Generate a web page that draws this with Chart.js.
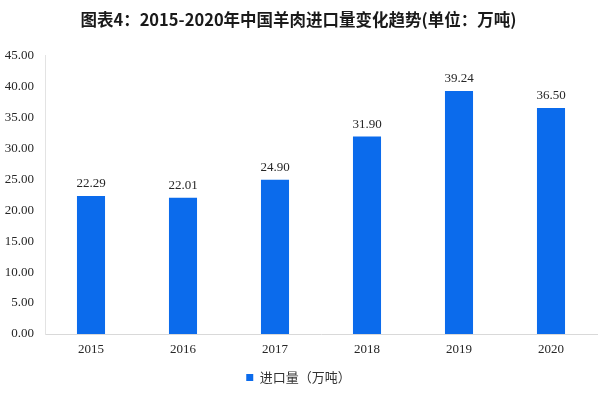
<!DOCTYPE html>
<html>
<head>
<meta charset="utf-8">
<script src="https://cdn.jsdelivr.net/npm/chart.js@4.4.0/dist/chart.umd.min.js"></script>
<style>
  html, body { margin: 0; padding: 0; background: #fff; }
  #wrap { width: 600px; height: 394px; position: relative; }
</style>
</head>
<body>
<div id="wrap"><canvas id="importChart" width="600" height="394"></canvas></div>
<script>
// ------------------------------------
// DATA
// ------------------------------------
const years = ["2015", "2016", "2017", "2018", "2019", "2020"];
const importVolume = [22.29, 22.01, 24.90, 31.90, 39.24, 36.50];
const seriesName = "进口量（万吨）";
const chartTitle = "图表4：2015-2020年中国羊肉进口量变化趋势(单位：万吨)";

const barColor = "#0b6bec";
const serifFont = "'Liberation Serif', 'Times New Roman', serif";
const cjkFont = "'Noto Sans CJK SC', 'Noto Sans', sans-serif";

// ------------------------------------
// VALUE LABELS ABOVE BARS
// ------------------------------------
const valueLabels = {
    id: "valueLabels",
    afterDatasetsDraw(chart) {
        const ctx = chart.ctx;
        const meta = chart.getDatasetMeta(0);
        ctx.save();
        ctx.font = "13px " + serifFont;
        ctx.fillStyle = "#262626";
        ctx.textAlign = "center";
        ctx.textBaseline = "alphabetic";
        meta.data.forEach((bar, i) => {
            ctx.fillText(importVolume[i].toFixed(2), bar.x, bar.y - 9);
        });
        ctx.restore();
    }
};

// ------------------------------------
// CHART
// ------------------------------------
const ctx = document.getElementById("importChart").getContext("2d");

const importChart = new Chart(ctx, {
    type: "bar",
    data: {
        labels: years,
        datasets: [{
            label: seriesName,
            data: importVolume,
            backgroundColor: barColor,
            borderWidth: 0,
            categoryPercentage: 1,
            barPercentage: 0.305
        }]
    },
    options: {
        responsive: false,
        animation: false,
        layout: { padding: { left: 0, right: 3, top: 0, bottom: 0 } },
        plugins: {
            title: {
                display: true,
                text: chartTitle,
                color: "#1a1a1a",
                font: { family: cjkFont, size: 16.5, weight: "bold", lineHeight: 1.2 },
                padding: { top: 10, bottom: 25.6 }
            },
            legend: {
                position: "bottom",
                labels: {
                    boxWidth: 7,
                    boxHeight: 7,
                    padding: 10,
                    color: "#333",
                    font: { family: cjkFont, size: 13 }
                }
            },
            tooltip: { enabled: false }
        },
        scales: {
            x: {
                grid: { display: false, drawTicks: false },
                border: { display: true, color: "#d9d9d9", width: 1 },
                ticks: {
                    color: "#262626",
                    padding: 8,
                    font: { family: serifFont, size: 13 }
                },
                afterFit(scale) { scale.height = 27; }
            },
            y: {
                min: 0,
                max: 45,
                grid: { display: false, drawTicks: false },
                border: { display: true, color: "#e3e3e3", width: 1 },
                ticks: {
                    stepSize: 5,
                    color: "#262626",
                    padding: 11,
                    font: { family: serifFont, size: 13 },
                    callback: v => v.toFixed(2)
                },
                afterFit(scale) { scale.width = 45; }
            }
        }
    },
    plugins: [valueLabels]
});
</script>
</body>
</html>
